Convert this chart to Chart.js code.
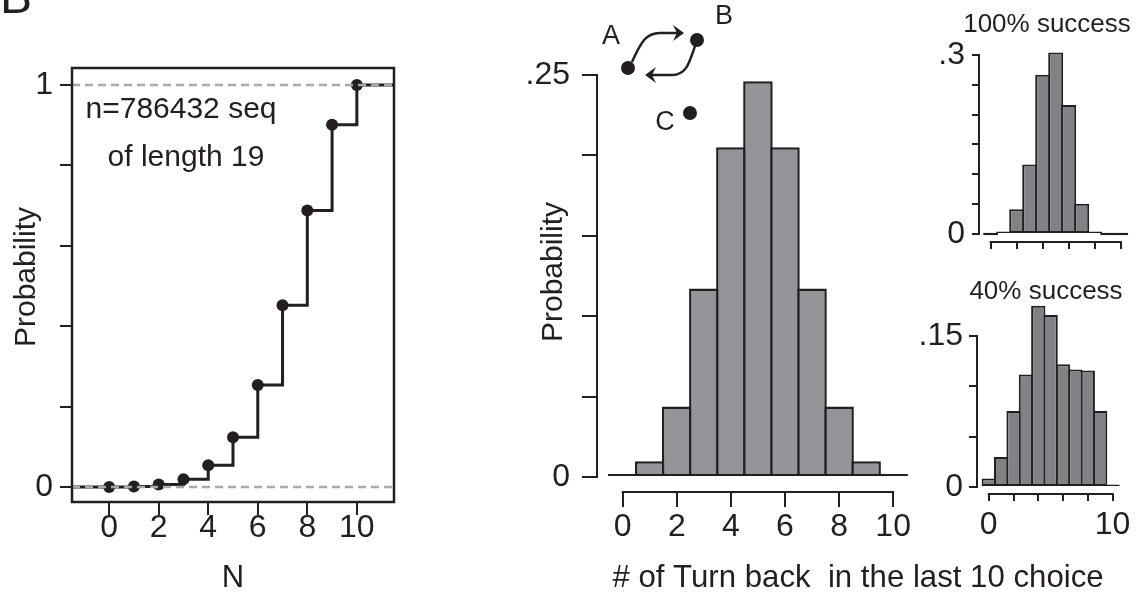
<!DOCTYPE html>
<html>
<head>
<meta charset="utf-8">
<title>Turn back probability</title>
<script src="https://cdn.jsdelivr.net/npm/chart.js@4.4.1/dist/chart.umd.min.js"></script>
<style>
  html, body { margin: 0; padding: 0; background: #fff; }
  #wrap { position: relative; width: 1139px; height: 597px; overflow: hidden; }
  #wrap canvas { position: absolute; left: 0; top: 0; }
</style>
</head>
<body>
<div id="wrap">
  <canvas id="c-cum" width="1139" height="597"></canvas>
  <canvas id="c-all" width="1139" height="597"></canvas>
  <canvas id="c-s100" width="1139" height="597"></canvas>
  <canvas id="c-s40" width="1139" height="597"></canvas>
</div>
<script>
/* ── data ─────────────────────────────────────────── */
// cumulative probability vs N
var cumN    = [0, 1, 2, 3, 4, 5, 6, 7, 8, 9, 10];
var cumProb = [0, 0.001, 0.006, 0.019, 0.054, 0.124, 0.254, 0.452, 0.688, 0.901, 1];
var refLevels = [0, 1];

// # of turn back in the last 10 choices
var turnBack = [0, 1, 2, 3, 4, 5, 6, 7, 8, 9, 10];
var probAll  = [0.001, 0.0098, 0.0439, 0.1172, 0.2051, 0.2461, 0.2051, 0.1172, 0.0439, 0.0098, 0.001];
var prob100  = [0, 0.002, 0.0414, 0.1166, 0.267, 0.304, 0.216, 0.0508, 0.002, 0, 0];
var prob40   = [0.0085, 0.0298, 0.0755, 0.1118, 0.180, 0.171, 0.1219, 0.1168, 0.1158, 0.0755, 0.001];

// ticks
var cumYTicks  = [0, 0.2, 0.4, 0.6, 0.8, 1];
var cumYLabels = ['0', '', '', '', '', '1'];
var evenTicks  = [0, 2, 4, 6, 8, 10];
var evenLabels = ['0', '2', '4', '6', '8', '10'];
var allYTicks  = [0, 0.05, 0.1, 0.15, 0.2, 0.25];
var allYLabels = ['0', '', '', '', '', '.25'];
var s100YTicks  = [0, 0.05, 0.1, 0.15, 0.2, 0.25, 0.3];
var s100YLabels = ['0', '', '', '', '', '', '.3'];
var s100XLabels = ['', '', '', '', '', ''];
var s40YTicks  = [0, 0.05, 0.1, 0.15];
var s40YLabels = ['0', '', '', '.15'];
var s40XLabels = ['0', '', '', '', '', '10'];

/* ── look ─────────────────────────────────────────── */
var W = 1139, H = 597;
var INK = '#231f20';
var X_H = 60;

// the figure uses a condensed Helvetica; take the narrow face when it is installed
function hasFont(name) {
  var c = document.createElement('canvas').getContext('2d');
  c.font = '40px monospace';
  var a = c.measureText('abcdefghijklmnop').width;
  c.font = '40px "' + name + '", monospace';
  return c.measureText('abcdefghijklmnop').width !== a;
}
var NARROW = hasFont('Liberation Sans Narrow');
var FONT = NARROW ? '"Liberation Sans Narrow", "Liberation Sans", Arial, sans-serif'
                  : '"Liberation Sans", Arial, Helvetica, sans-serif';
var FS = NARROW ? 1 / 0.84 : 1;
function fs(px) { return Math.round(px * FS * 10) / 10; }

function frame(b, yW) {
  return { padding: { left: b.l - yW, top: b.t, right: W - b.r, bottom: H - b.b - X_H } };
}

// o.mid: distance from axis line to the centre of the x labels
function axis(o) {
  var size = fs(32);
  var pad = o.mid != null ? o.mid - o.tick - size / 2 : o.pad;
  return {
    type: 'linear', min: o.min, max: o.max, offset: false,
    afterBuildTicks: function (s) { s.ticks = o.ticks.map(function (v) { return { value: v }; }); },
    afterFit: function (s) { if (s.isHorizontal()) s.height = X_H; else s.width = o.size; },
    border: { display: false },
    grid: { drawOnChartArea: false, drawTicks: true, tickLength: o.tick, tickWidth: 2, lineWidth: 2, color: INK, offset: false },
    ticks: {
      autoSkip: false, maxRotation: 0, minRotation: 0, padding: pad, color: INK,
      font: { family: FONT, size: size, lineHeight: 1 },
      callback: function (v, i) { return o.labels[i]; }
    }
  };
}

function txt(ctx, s, x, y, size, rot) {
  ctx.save();
  ctx.fillStyle = INK;
  ctx.font = fs(size) + 'px ' + FONT;
  ctx.textAlign = 'center';
  ctx.textBaseline = 'middle';
  ctx.translate(x, y);
  if (rot) ctx.rotate(rot);
  ctx.fillText(s, 0, 0);
  ctx.restore();
}

// R style axes: lines only between first and last tick
function rAxes(xFrom, xTo, yFrom, yTo) {
  return {
    id: 'rAxes',
    afterDraw: function (chart) {
      var ctx = chart.ctx, a = chart.chartArea, x = chart.scales.x, y = chart.scales.y;
      ctx.save();
      ctx.strokeStyle = INK; ctx.lineWidth = 2;
      ctx.beginPath();
      ctx.moveTo(a.left, y.getPixelForValue(yFrom) + 1);
      ctx.lineTo(a.left, y.getPixelForValue(yTo) - 1);
      ctx.moveTo(x.getPixelForValue(xFrom) - 1, a.bottom);
      ctx.lineTo(x.getPixelForValue(xTo) + 1, a.bottom);
      ctx.stroke();
      ctx.restore();
    }
  };
}

function extras(fn) { return { id: 'extras', afterDraw: function (chart) { fn(chart.ctx, chart); } }; }

function barSet(values, fill, bw, pct, minLen) {
  return {
    label: 'Probability',
    data: turnBack.map(function (k, i) { return { x: k, y: values[i] }; }),
    backgroundColor: fill, borderColor: INK, borderWidth: bw, borderSkipped: false,
    barPercentage: 1, categoryPercentage: pct, minBarLength: minLen, clip: false
  };
}

function baseOpts(box, yW, xs, ys) {
  return {
    responsive: false, animation: false, devicePixelRatio: 1, events: [],
    layout: frame(box, yW),
    plugins: { legend: { display: false }, tooltip: { enabled: false } },
    scales: { x: xs, y: ys }
  };
}

/* ── panel: cumulative step ───────────────────────── */
var CUM_X = [-1.5, 11.5];
var stepData = [{ x: CUM_X[0], y: cumProb[0] }]
  .concat(cumN.map(function (n, i) { return { x: n, y: cumProb[i] }; }))
  .concat([{ x: CUM_X[1], y: cumProb[cumProb.length - 1] }]);

var cumSets = refLevels.map(function (v) {
  return { label: 'ref ' + v, data: [{ x: CUM_X[0], y: v }, { x: CUM_X[1], y: v }],
    borderColor: '#a7a9ac', borderWidth: 2.5, borderDash: [8, 5], pointRadius: 0, order: 0 };
});
cumSets.push({ label: 'points', data: cumN.map(function (n, i) { return { x: n, y: cumProb[i] }; }),
  showLine: false, pointRadius: 6, pointBackgroundColor: INK, pointBorderColor: INK, pointBorderWidth: 0, order: 1 });
cumSets.push({ label: 'cumulative', data: stepData, stepped: true, borderColor: INK, borderWidth: 3,
  pointRadius: 0, order: 2 });

new Chart(document.getElementById('c-cum'), {
  type: 'line',
  data: { datasets: cumSets },
  options: baseOpts({ l: 72, t: 68, r: 394, b: 502 }, 72,
    axis({ min: CUM_X[0], max: CUM_X[1], ticks: evenTicks, labels: evenLabels, tick: 13, mid: 26 }),
    axis({ min: -0.0373, max: 1.0423, ticks: cumYTicks, labels: cumYLabels, tick: 12, pad: 7, size: 72 })),
  plugins: [extras(function (ctx, chart) {
    var a = chart.chartArea;
    ctx.save();
    ctx.strokeStyle = INK; ctx.lineWidth = 2.5;
    ctx.strokeRect(a.left, a.top, a.right - a.left, a.bottom - a.top);
    ctx.restore();
    ctx.save();
    ctx.fillStyle = INK; ctx.font = fs(48) + 'px ' + FONT; ctx.textBaseline = 'alphabetic';
    ctx.fillText('B', 0, 13);
    ctx.restore();
    txt(ctx, 'Probability', 27, 277, 30, -Math.PI / 2);
    txt(ctx, 'N', (a.left + a.right) / 2, 578, 31);
    txt(ctx, 'n=786432 seq', 181, 110, 30);
    txt(ctx, 'of length 19', 186, 158, 30);
  })]
});

/* ── panel: all sequences histogram ───────────────── */
function arrowHead(ctx, tx, ty, dir) {
  ctx.beginPath();
  ctx.moveTo(tx, ty);
  ctx.lineTo(tx - dir * 11, ty - 8);
  ctx.lineTo(tx - dir * 7, ty);
  ctx.lineTo(tx - dir * 11, ty + 8);
  ctx.closePath();
  ctx.fill();
}

new Chart(document.getElementById('c-all'), {
  type: 'bar',
  data: { datasets: [barSet(probAll, '#939598', 2.5, 1.092, 3)] },
  options: baseOpts({ l: 597, t: 70, r: 909.4, b: 492 }, 100,
    axis({ min: -0.95, max: 10.6, ticks: evenTicks, labels: evenLabels, tick: 15, mid: 35 }),
    axis({ min: -0.00933, max: 0.2531, ticks: allYTicks, labels: allYLabels, tick: 15, pad: 12, size: 100 })),
  plugins: [rAxes(0, 10, 0, 0.25), extras(function (ctx) {
    txt(ctx, 'Probability', 554, 272, 30, -Math.PI / 2);
    txt(ctx, '# of Turn back  in the last 10 choice', 858, 578, 31.2);
    // A <-> B loop, C apart
    ctx.save();
    ctx.fillStyle = INK; ctx.strokeStyle = INK; ctx.lineWidth = 2.5;
    [[628, 68], [697, 40], [690, 113]].forEach(function (p) {
      ctx.beginPath(); ctx.arc(p[0], p[1], 7, 0, Math.PI * 2); ctx.fill();
    });
    ctx.beginPath();
    ctx.moveTo(632, 62);
    ctx.bezierCurveTo(641, 42, 646, 33, 660, 33);
    ctx.lineTo(677, 33);
    ctx.stroke();
    arrowHead(ctx, 684, 33, 1);
    ctx.beginPath();
    ctx.moveTo(695, 46);
    ctx.bezierCurveTo(689, 64, 686, 75, 672, 75);
    ctx.lineTo(652, 75);
    ctx.stroke();
    arrowHead(ctx, 645, 75, -1);
    ctx.restore();
    txt(ctx, 'A', 611, 37, 27);
    txt(ctx, 'B', 724, 17, 27);
    txt(ctx, 'C', 665, 123, 27);
  })]
});

/* ── inset: 100% success ──────────────────────────── */
new Chart(document.getElementById('c-s100'), {
  type: 'bar',
  data: { datasets: [barSet(prob100, '#808285', 2, 1.154, 2.5)] },
  options: baseOpts({ l: 979, t: 52, r: 1128.5, b: 242 }, 90,
    axis({ min: -0.9, max: 10.6, ticks: evenTicks, labels: s100XLabels, tick: 7, pad: 0 }),
    axis({ min: -0.0134, max: 0.305, ticks: s100YTicks, labels: s100YLabels, tick: 7, pad: 7, size: 90 })),
  plugins: [rAxes(0, 10, 0, 0.3), extras(function (ctx) {
    txt(ctx, '100% success', 1047, 25, 26);
  })]
});

/* ── inset: 40% success ───────────────────────────── */
new Chart(document.getElementById('c-s40'), {
  type: 'bar',
  data: { datasets: [barSet(prob40, '#808285', 2, 1.154, 2.5)] },
  options: baseOpts({ l: 977, t: 332, r: 1126.5, b: 494 }, 90,
    axis({ min: -0.95, max: 10.6, ticks: evenTicks, labels: s40XLabels, tick: 7, mid: 31 }),
    axis({ min: -0.00695, max: 0.154, ticks: s40YTicks, labels: s40YLabels, tick: 8, pad: 6, size: 90 })),
  plugins: [rAxes(0, 10, 0, 0.15), extras(function (ctx) {
    txt(ctx, '40% success', 1046, 292, 26);
  })]
});
</script>
</body>
</html>
